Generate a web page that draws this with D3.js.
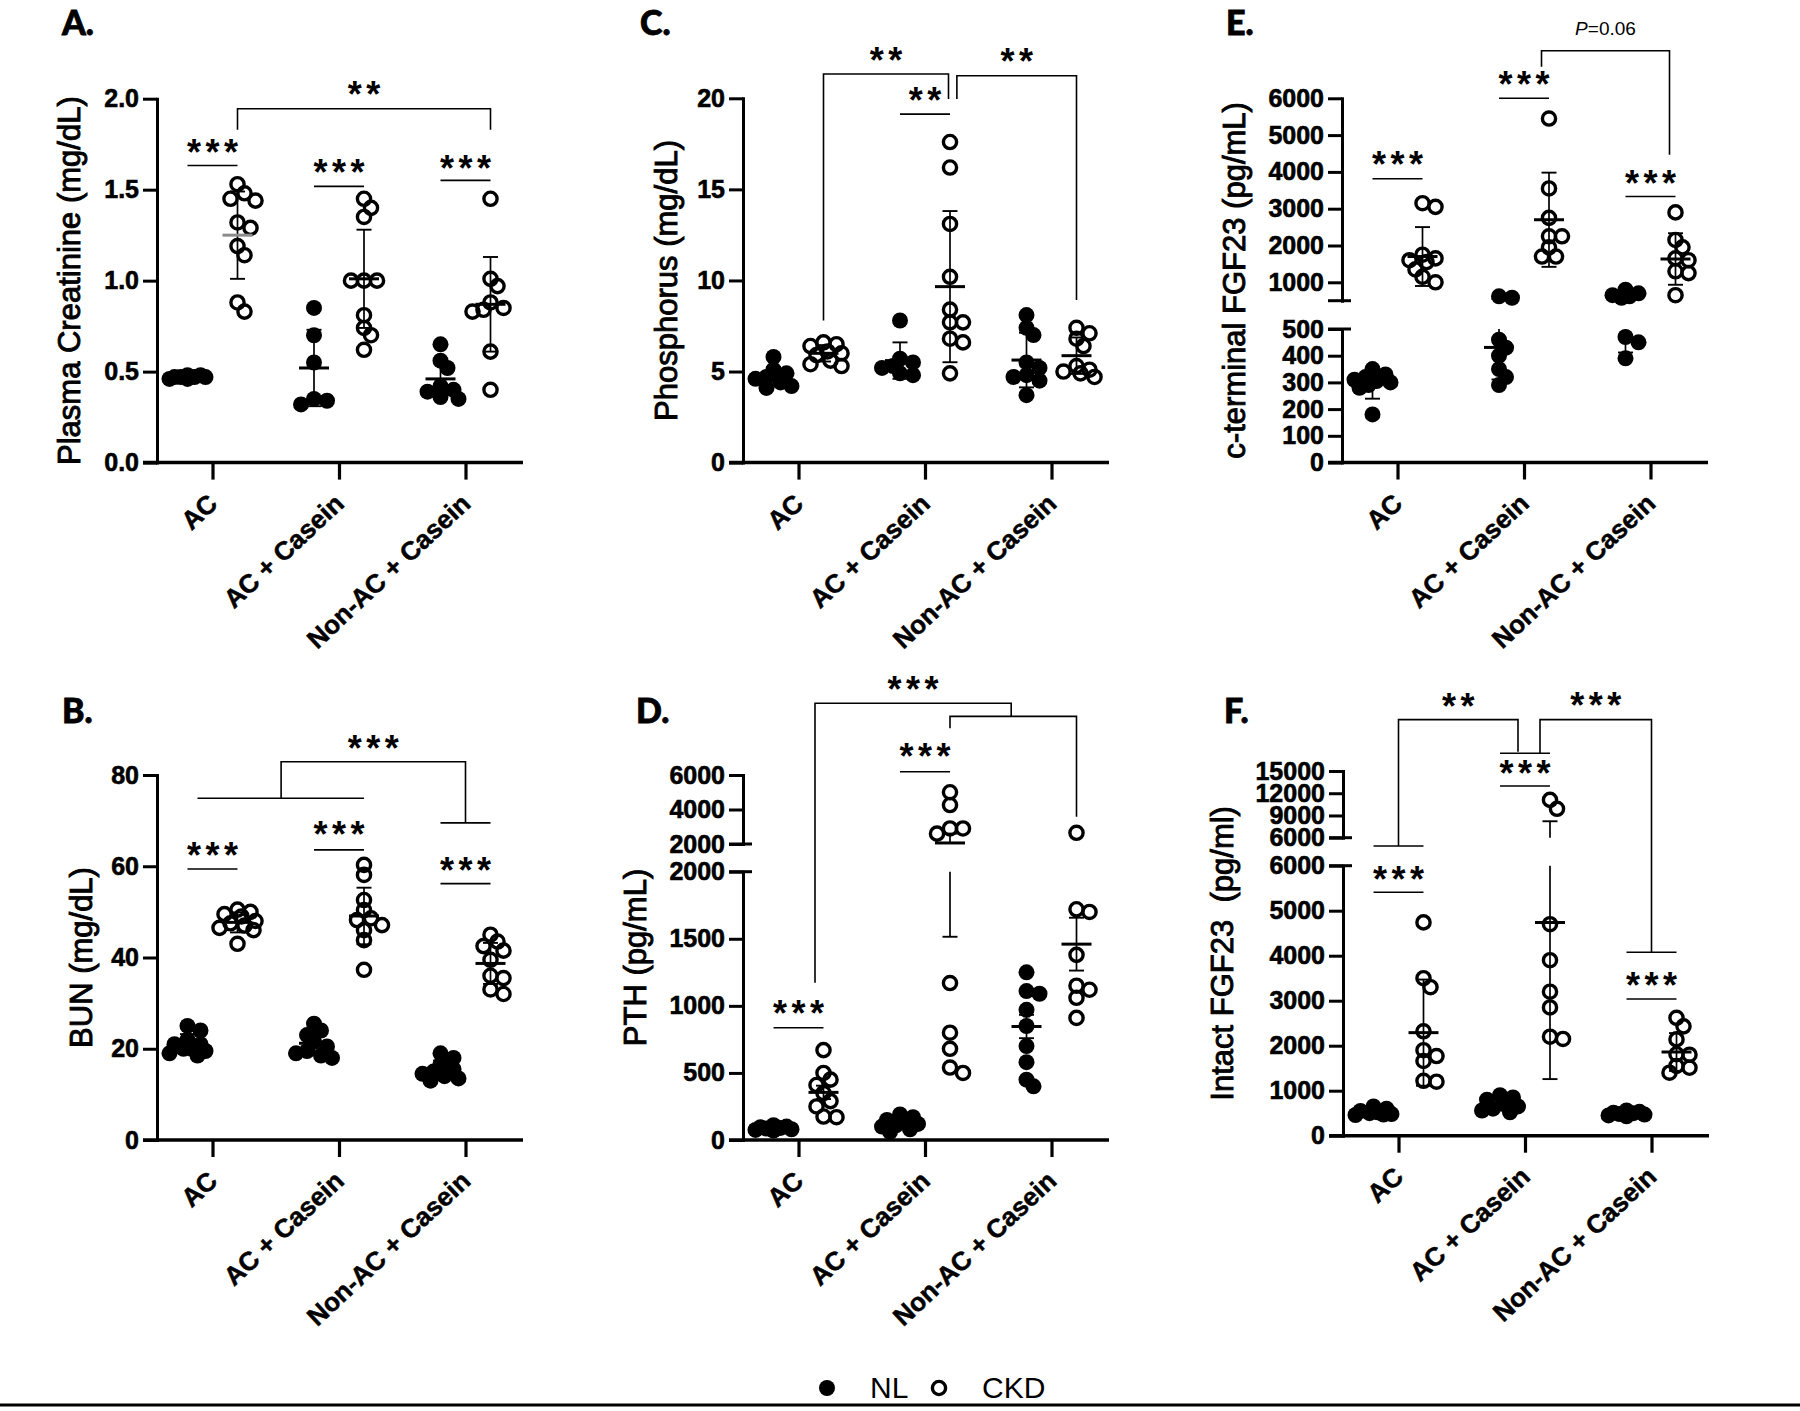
<!DOCTYPE html>
<html><head><meta charset="utf-8">
<script src="https://cdn.jsdelivr.net/npm/d3@7"></script>
<style>body{margin:0;background:#fff}svg{display:block}</style>
</head><body>
<svg id="c" width="1800" height="1411"></svg>
<script>
// ---------------- DATA ----------------
const categories = ["AC", "AC + Casein", "Non-AC + Casein"];
const legendLabels = ["NL", "CKD"];

// A. Plasma creatinine
const creatinineTicks = [[0, 0.5, 1.0, 1.5, 2.0]];
const creatinineNL = [[0.46,0.47,0.47,0.48,0.46,0.47,0.48,0.47],[0.85,0.70,0.55,0.35,0.34,0.32],[0.65,0.56,0.52,0.42,0.40,0.39,0.36,0.35]];
const creatinineCKD = [[1.53,1.48,1.45,1.44,1.32,1.29,1.19,1.14,0.88,0.83],[1.45,1.40,1.35,1.00,1.00,1.00,0.81,0.74,0.70,0.62],[1.45,1.01,0.97,0.88,0.85,0.84,0.83,0.61,0.40]];
const creatinineMean = [0.47,1.25,0.52,1.01,0.46,0.87];
const creatinineErr = [0.01,0.24,0.21,0.27,0.11,0.26];
const creatinineSig = [[0,1,1.633,1.75,"***"],[2,3,1.518,1.64,"***"],[4,5,1.551,1.665,"***"]];
const creatinineBrackets = [{paths:[[[1,1.83],[1,1.945],[5,1.945],[5,1.83]]], label:"**", tv:2.07}];

// C. Phosphorus
const phosTicks = [[0,5,10,15,20]];
const phosNL = [[5.8,5.1,4.9,4.7,4.6,4.4,4.2,4.1],[7.8,5.7,5.5,5.3,5.2,4.9,4.8],[8.1,7.4,7.0,5.5,5.2,4.8,4.7,4.5,3.7]];
const phosCKD = [[6.6,6.5,6.4,6.1,6.0,5.9,5.6,5.4,5.3],[17.6,16.2,13.1,10.2,8.4,7.7,7.7,6.8,6.6,4.9],[7.4,7.1,6.8,6.4,5.3,5.1,5.0,4.9,4.7]];
const phosMean = [4.75,6.0,5.6,9.66,5.63,5.87];
const phosErr = [0.5,0.45,1.0,4.15,1.5,1.0];
const phosSig = [[2,3,19.13,20.36,"**"]];
const phosBrackets = [
  {paths:[[[1,7.8],[1,21.33],[2.97,21.33],[2.97,19.96]]], label:"**", tv:22.55},
  {paths:[[[3.09,19.96],[3.09,21.24],[5,21.24],[5,8.93]]], label:"**", tv:22.46}
];

// E. c-terminal FGF23
const cfgfTicks = [[0,100,200,300,400,500],[1000,2000,3000,4000,5000,6000]];
const cfgfNL = [[350,330,320,310,305,300,290,280,180],[620,580,460,430,400,350,320,290],[800,700,650,620,580,470,450,390]];
const cfgfCKD = [[3150,3050,1750,1650,1600,1550,1350,1150,1000],[5450,3550,2750,2250,2250,1950,1700,1700],[2900,2150,1950,1650,1600,1300,1250,650]];
const cfgfMean = [296,1700,431,2700,582,1633];
const cfgfErr = [57,800,120,1280,170,700];
const cfgfSig = [[0,1,3812,4418,"***"],[2,3,6000,6600,"***"],[4,5,3333,3920,"***"]];
const cfgfBrackets = [{paths:[[[2.85,6859],[2.85,7293],[4.88,7293],[4.88,4463]]], label:"P=0.06", tv:7917}];

// B. BUN
const bunTicks = [[0,20,40,60,80]];
const bunNL = [[25,24,22,21,21,20,20,19.5,19,18.5],[25.5,24,23,21.5,20.5,19.5,19,18.5,18],[19,18,16.5,15.5,15,14.5,14,13.5,13]];
const bunCKD = [[50.5,50,49.5,49,48,47.5,47,46.5,46,43],[60.3,58.1,52.6,50.4,48.6,48.2,47.1,46,43.8,37.3],[45,43.5,42.5,41.5,39.5,36,35.5,33,32]];
const bunMean = [21.2,47.7,21.2,49.1,15.4,38.7];
const bunErr = [2,2.2,2.5,6.2,2,4.5];
const bunSig = [[0,1,59.4,64.3,"***"],[2,3,63.6,68.7,"***"],[4,5,56.2,61,"***"]];
const bunBrackets = [{paths:[[[0.2,74.9],[3,74.9]],[[1.57,74.9],[1.57,82.9],[4.5,82.9],[4.5,69.5]],[[4,69.5],[5,69.5]]], label:"***", tv:87.7}];

// D. PTH
const pthTicks = [[0,500,1000,1500,2000],[2000,4000,6000]];
const pthNL = [[110,100,95,90,85,80,75,70],[190,170,150,130,120,110,100,80,60],[1250,1110,1090,970,850,700,580,450,400]];
const pthCKD = [[670,500,450,410,350,290,250,175,170],[5000,4260,2900,2900,2600,1170,800,680,540,500],[2650,1720,1700,1380,1150,1120,1060,910]];
const pthMean = [88,355,123,2060,846,1460];
const pthErr = [10,50,15,545,87,197];
const pthSig = [[0,1,837,1006,"***"],[2,3,6191,7548,"***"]];
const pthBrackets = [{paths:[[[0.83,1173],[0.83,10156],[3.8,10156],[3.8,9400]],[[3,8707],[3,9400],[5,9400],[5,3583]]], label:"***", tv:11420}];

// F. Intact FGF23
const ifgfTicks = [[0,1000,2000,3000,4000,5000,6000],[6000,9000,12000,15000]];
const ifgfNL = [[650,600,550,520,500,480,470,460],[900,850,800,700,650,600,560,520],[560,530,510,500,480,470,450,430]];
const ifgfCKD = [[4740,3500,3300,2320,1900,1770,1660,1220,1200],[11100,9900,4700,3900,3200,2850,2200,2150],[2620,2430,2140,1810,1800,1550,1510,1400]];
const ifgfMean = [530,2290,700,4738,490,1860];
const ifgfErr = [60,1180,120,3480,50,420];
const ifgfSig = [[0,1,5409,5882,"***"],[2,3,12977,15811,"***"],[4,5,3038,3520,"***"]];
const ifgfBrackets = [
  {paths:[[[0,6438,0],[1,6438,0]],[[0.5,6438,0],[0.5,21930],[2.36,21930],[2.36,17606]],[[2,17390],[3,17390]]], label:"**", tv:24812},
  {paths:[[[2.8,17390],[2.8,21930],[4.5,21930],[4.5,4076]],[[4,4076],[5,4076]]], label:"***", tv:24947}
];

// ---------------- LAYOUT ----------------
const panels = [
  {tag:"A.", title:"Plasma Creatinine (mg/dL)", nl:creatinineNL, ckd:creatinineCKD, mean:creatinineMean, err:creatinineErr, ticks:creatinineTicks, sig:creatinineSig, br:creatinineBrackets,
   ax:157, segs:[{d:[0,2], r:[462.6,98.7]}], fmt:d3.format(".1f"), tagPos:[62,35], titleX:72, grayMean:[1]},
  {tag:"C.", title:"Phosphorus (mg/dL)", nl:phosNL, ckd:phosCKD, mean:phosMean, err:phosErr, ticks:phosTicks, sig:phosSig, br:phosBrackets,
   ax:743, segs:[{d:[0,20], r:[462.6,98.3]}], fmt:d3.format("d"), tagPos:[640,35], titleX:669, grayMean:[]},
  {tag:"E.", title:"c-terminal FGF23 (pg/mL)", nl:cfgfNL, ckd:cfgfCKD, mean:cfgfMean, err:cfgfErr, ticks:cfgfTicks, sig:cfgfSig, br:cfgfBrackets,
   ax:1342, segs:[{d:[0,500], r:[462.5,329]},{d:[500,6000], r:[300.7,98.3]}], fmt:d3.format("d"), tagPos:[1226,35], titleX:1237, grayMean:[]},
  {tag:"B.", title:"BUN (mg/dL)", nl:bunNL, ckd:bunCKD, mean:bunMean, err:bunErr, ticks:bunTicks, sig:bunSig, br:bunBrackets,
   ax:157, segs:[{d:[0,80], r:[1140,775]}], fmt:d3.format("d"), tagPos:[62,723], titleX:84, grayMean:[]},
  {tag:"D.", title:"PTH (pg/mL)", nl:pthNL, ckd:pthCKD, mean:pthMean, err:pthErr, ticks:pthTicks, sig:pthSig, br:pthBrackets,
   ax:743, segs:[{d:[0,2000], r:[1140,871.7]},{d:[2000,6000], r:[844,775]}], fmt:d3.format("d"), tagPos:[636,723], titleX:638, grayMean:[]},
  {tag:"F.", title:"Intact FGF23\u00a0\u00a0(pg/ml)", nl:ifgfNL, ckd:ifgfCKD, mean:ifgfMean, err:ifgfErr, ticks:ifgfTicks, sig:ifgfSig, br:ifgfBrackets,
   ax:1343, segs:[{d:[0,6000], r:[1135.7,865.7]},{d:[6000,15000], r:[837.7,771]}], fmt:d3.format("d"), tagPos:[1224,723], titleX:1225, grayMean:[]}
];

const FONT = "'Liberation Sans', Arimo, Arial, Helvetica, sans-serif";
const svg = d3.select("#c");
svg.append("rect").attr("width",1800).attr("height",1411).attr("fill","#fff");

const R_DOT = 8, R_CIR = 6.6, CIR_W = 3.4;
const STAR_FS = 36, STAR_LS = 4.5;

function swarm(vals, Y, cx) {
  const pts = vals.map(v => ({v, y: Y(v)})).sort((a,b) => a.y - b.y);
  const offs = [0, 7, -7, 13, -13, 18, -18, 4, -4, 10, -10, 16, -16];
  const placed = [];
  for (const p of pts) {
    let best = 0, bestD = -1;
    for (const o of offs) {
      let md = Infinity;
      for (const q of placed) md = Math.min(md, Math.hypot(o - q.o, p.y - q.y));
      if (md >= 9.5) { best = o; bestD = md; break; }
      if (md > bestD) { bestD = md; best = o; }
    }
    p.o = best; placed.push(p);
  }
  return pts.map(p => ({x: cx + p.o, y: p.y}));
}

function drawPanel(P) {
  const g = svg.append("g");
  const sc = P.segs.map(s => d3.scaleLinear().domain(s.d).range(s.r));
  const loTop = P.segs[0].d[1];
  const broken = sc.length > 1;
  const segOf = v => (broken && v > loTop) ? 1 : 0;
  const Y = (v, s) => sc[(s == null) ? segOf(v) : s](v);
  const xs = d3.scalePoint().domain(categories).range([P.ax + 55.5, P.ax + 308.5]);
  const gxs = d3.range(6).map(i => xs(categories[Math.floor(i/2)]) + (i % 2 ? 25 : -25));
  const GX = t => { const i = Math.min(4, Math.floor(t)); const f = t - i; return gxs[i] + f * (gxs[i+1] - gxs[i]); };
  const base = P.segs[0].r[0];

  // y axes
  sc.forEach((s, k) => {
    const ax = g.append("g").attr("transform", `translate(${P.ax},0)`)
      .call(d3.axisLeft(s).tickValues(P.ticks[k]).tickSize(14).tickPadding(4).tickSizeOuter(0).tickFormat(P.fmt));
    ax.select(".domain").attr("stroke","#000").attr("stroke-width",3).attr("stroke-linecap","square");
    ax.selectAll(".tick line").attr("stroke","#000").attr("stroke-width",3);
    ax.selectAll(".tick text").attr("fill","#000").attr("stroke","#000").attr("stroke-width",0.6)
      .style("font-family",FONT).style("font-weight","bold").style("font-size","25px");
  });
  if (broken) {
    [sc[0](loTop), sc[1](P.segs[1].d[0])].forEach(yy => {
      g.append("line").attr("x1",P.ax-14).attr("x2",P.ax+9).attr("y1",yy).attr("y2",yy).attr("stroke","#000").attr("stroke-width",3);
    });
  }
  // x axis
  g.append("line").attr("x1",P.ax-14).attr("x2",P.ax+366).attr("y1",base).attr("y2",base).attr("stroke","#000").attr("stroke-width",3.5);
  const xa = g.append("g").attr("transform",`translate(0,${base})`).call(d3.axisBottom(xs).tickSize(17).tickSizeOuter(0));
  xa.select(".domain").remove();
  xa.selectAll(".tick line").attr("stroke","#000").attr("stroke-width",3.2);
  xa.selectAll(".tick text").attr("x",0).attr("y",0).attr("dy",0)
    .attr("transform","translate(6,43) rotate(-43)").attr("text-anchor","end").attr("fill","#000")
    .attr("stroke","#000").attr("stroke-width",0.5)
    .style("font-family",FONT).style("font-weight","bold").style("font-size","26px");

  // titles
  g.append("text").attr("transform",`translate(${P.titleX},${(P.segs[0].r[0] + P.segs[P.segs.length-1].r[1])/2}) rotate(-90)`)
    .attr("text-anchor","middle").attr("dy","0.27em").text(P.title)
    .style("font-family",FONT).style("font-size","31px").attr("fill","#000").attr("stroke","#000").attr("stroke-width",0.9);
  g.append("text").attr("x",P.tagPos[0]).attr("y",P.tagPos[1]).text(P.tag)
    .style("font-family","Lato, 'Open Sans', sans-serif").style("font-weight","900").style("font-size","34px")
    .attr("fill","#000").attr("stroke","#000").attr("stroke-width",0.8);

  // points
  categories.forEach((c, ci) => {
    [P.nl[ci], P.ckd[ci]].forEach((vals, s) => {
      const gi = ci*2 + s;
      const pts = swarm(vals, v => Y(v), gxs[gi]);
      g.selectAll(null).data(pts).enter().append("circle")
        .attr("cx", d => d.x).attr("cy", d => d.y)
        .attr("r", s ? R_CIR : R_DOT)
        .attr("fill", s ? "none" : "#000")
        .attr("stroke", s ? "#000" : "none").attr("stroke-width", s ? CIR_W : 0);
    });
  });

  // mean + error bars
  function vline(x, v1, v2, w) {
    const s1 = segOf(v1), s2 = segOf(v2);
    if (s1 === s2) {
      g.append("line").attr("x1",x).attr("x2",x).attr("y1",Y(v1)).attr("y2",Y(v2)).attr("stroke","#000").attr("stroke-width",w);
    } else {
      const lo = Math.min(v1,v2), hi = Math.max(v1,v2);
      g.append("line").attr("x1",x).attr("x2",x).attr("y1",Y(lo)).attr("y2",sc[0](loTop)).attr("stroke","#000").attr("stroke-width",w);
      g.append("line").attr("x1",x).attr("x2",x).attr("y1",sc[1](P.segs[1].d[0])).attr("y2",Y(hi)).attr("stroke","#000").attr("stroke-width",w);
    }
  }
  P.mean.forEach((m, gi) => {
    const x = gxs[gi], e = P.err[gi];
    const col = P.grayMean.includes(gi) ? "#8c8c8c" : "#000";
    vline(x, m - e, m + e, 1.7);
    [m - e, m + e].forEach(v => g.append("line").attr("x1",x-7.5).attr("x2",x+7.5).attr("y1",Y(v)).attr("y2",Y(v)).attr("stroke","#000").attr("stroke-width",1.9));
    g.append("line").attr("x1",x-15).attr("x2",x+15).attr("y1",Y(m)).attr("y2",Y(m)).attr("stroke",col).attr("stroke-width",3);
  });

  // significance
  function label(x, yc, txt) {
    if (txt.startsWith("P=")) {
      const t = g.append("text").attr("x",x).attr("y",yc + 7).attr("text-anchor","middle")
        .style("font-family",FONT).style("font-size","19px").attr("fill","#000");
      t.append("tspan").style("font-style","italic").text("P");
      t.append("tspan").text(txt.slice(1));
    } else {
      g.append("text").attr("x",x + STAR_LS/2).attr("y",yc + 0.58*STAR_FS).attr("text-anchor","middle")
        .style("font-family",FONT).style("font-weight","bold").style("font-size",STAR_FS+"px")
        .style("letter-spacing",STAR_LS+"px").attr("fill","#000").text(txt);
    }
  }
  const line = d3.line();
  P.sig.forEach(([a, b, lv, tv, txt]) => {
    g.append("line").attr("x1",GX(a)).attr("x2",GX(b)).attr("y1",Y(lv)).attr("y2",Y(lv)).attr("stroke","#000").attr("stroke-width",1.6);
    label((GX(a)+GX(b))/2, Y(tv), txt);
  });
  P.br.forEach(b => {
    let top = null;
    b.paths.forEach(path => {
      const pts = path.map(([t, v, s]) => [GX(t), Y(v, s)]);
      g.append("path").attr("d", line(pts)).attr("fill","none").attr("stroke","#000").attr("stroke-width",1.6);
      for (let i = 0; i + 1 < pts.length; i++) {
        if (Math.abs(pts[i][1] - pts[i+1][1]) < 0.01 && (!top || pts[i][1] < top.y)) top = {y: pts[i][1], x: (pts[i][0] + pts[i+1][0]) / 2};
      }
    });
    label(top.x, Y(b.tv), b.label);
  });
}

panels.forEach(drawPanel);

// legend
const lg = svg.append("g");
const legX = d3.scalePoint().domain(legendLabels).range([827, 939]);
legendLabels.forEach((name, i) => {
  lg.append("circle").attr("cx", legX(name)).attr("cy", 1388).attr("r", i ? R_CIR : R_DOT)
    .attr("fill", i ? "none" : "#000").attr("stroke", i ? "#000" : "none").attr("stroke-width", i ? CIR_W : 0);
  lg.append("text").attr("x", legX(name) + 43).attr("y", 1398).text(name)
    .style("font-family", FONT).style("font-size", "30px").attr("fill", "#000");
});
svg.append("line").attr("x1",0).attr("x2",1800).attr("y1",1405).attr("y2",1405).attr("stroke","#000").attr("stroke-width",3);
</script>
</body></html>
